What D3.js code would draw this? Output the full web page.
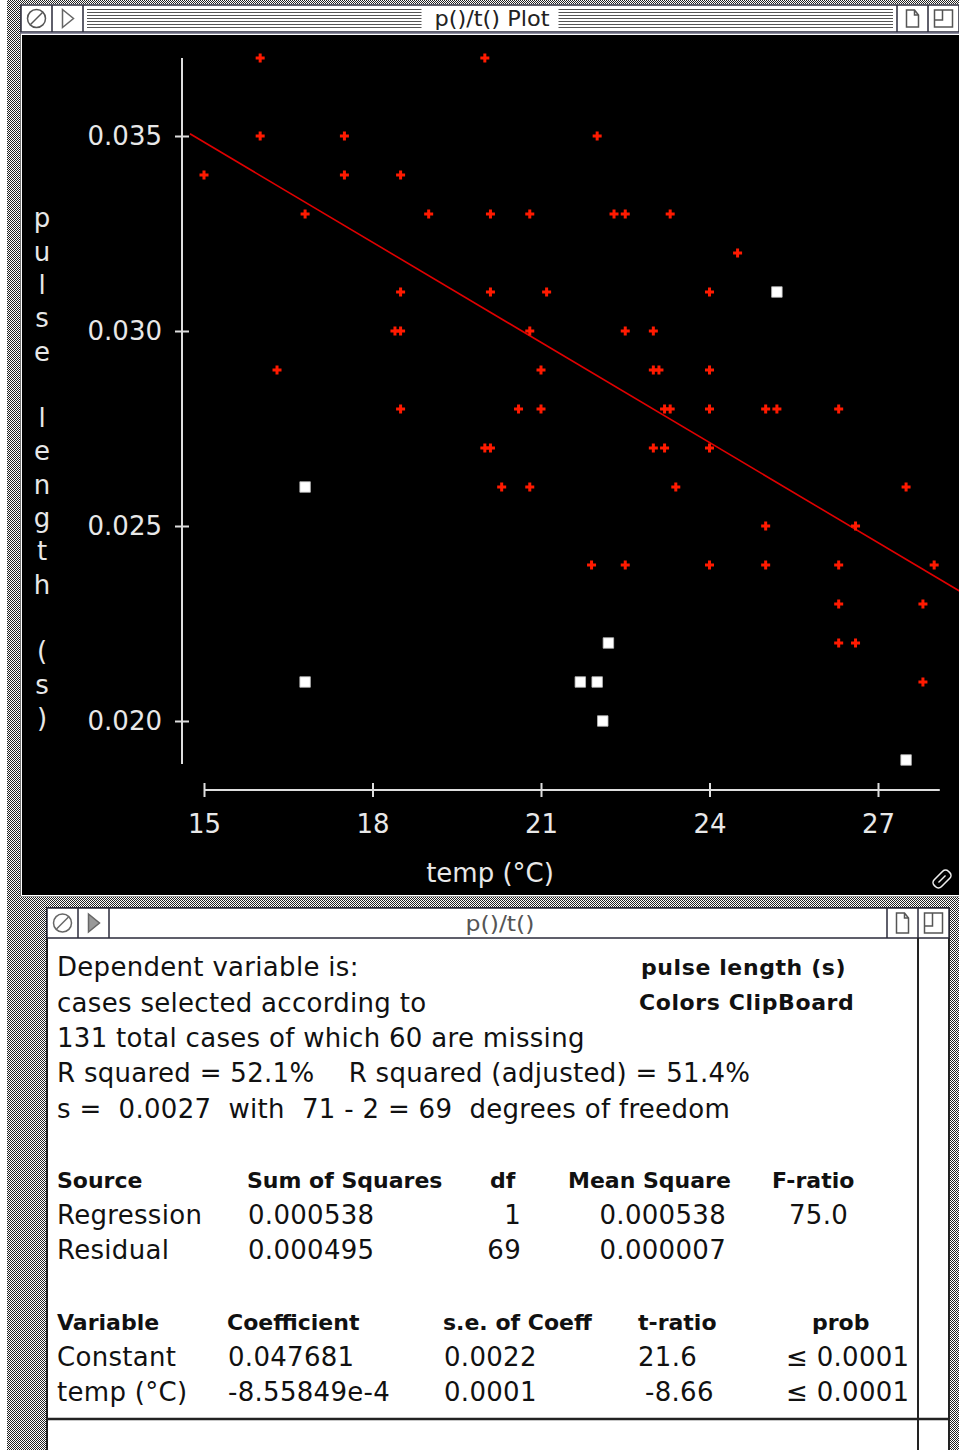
<!DOCTYPE html>
<html lang="en">
<head>
<meta charset="utf-8">
<title>p()/t() Plot</title>
<script src="https://cdnjs.cloudflare.com/ajax/libs/d3/7.8.5/d3.min.js"></script>
<style>
  body { margin: 0; background: #fff; }
  svg { display: block; font-family: "DejaVu Sans", sans-serif; }
  .bold { font-weight: bold; font-size: 22px; }
  .wide { letter-spacing: 0.6px; }
  .plain { font-size: 26px; letter-spacing: 0.3px; }
</style>
</head>
<body>
<svg id="chart" width="959" height="1450"></svg>
<script>
// values: temp (°C) and pulse length (s)
const redTemp = [16.0, 20.0,
  16.0, 17.5, 22.0,
  15.0, 17.5, 18.5,
  16.8, 19.0, 20.1, 20.8, 22.3, 22.5, 23.3,
  24.5,
  18.5, 20.1, 21.1, 24.0,
  18.4, 18.5, 20.8, 22.5, 23.0,
  16.3, 21.0, 23.0, 23.1, 24.0,
  18.5, 20.6, 21.0, 23.2, 23.3, 24.0, 25.0, 25.2, 26.3,
  20.0, 20.1, 23.0, 23.2, 24.0,
  20.3, 20.8, 23.4, 27.5,
  25.0, 26.6,
  21.9, 22.5, 24.0, 25.0, 26.3, 28.0,
  26.3, 27.8,
  26.3, 26.6,
  27.8];
const redPulse = [0.037, 0.037,
  0.035, 0.035, 0.035,
  0.034, 0.034, 0.034,
  0.033, 0.033, 0.033, 0.033, 0.033, 0.033, 0.033,
  0.032,
  0.031, 0.031, 0.031, 0.031,
  0.030, 0.030, 0.030, 0.030, 0.030,
  0.029, 0.029, 0.029, 0.029, 0.029,
  0.028, 0.028, 0.028, 0.028, 0.028, 0.028, 0.028, 0.028, 0.028,
  0.027, 0.027, 0.027, 0.027, 0.027,
  0.026, 0.026, 0.026, 0.026,
  0.025, 0.025,
  0.024, 0.024, 0.024, 0.024, 0.024, 0.024,
  0.023, 0.023,
  0.022, 0.022,
  0.021];
// cases not selected (white squares)
const whiteTemp = [25.2, 16.8, 16.8, 22.2, 21.7, 22.0, 22.1, 27.5];
const whitePulse = [0.031, 0.026, 0.021, 0.022, 0.021, 0.021, 0.020, 0.019];

const xTicks = [15, 18, 21, 24, 27];
const yTicks = [0.020, 0.025, 0.030, 0.035];
const xSpan = [15, 28.1];
const ySpan = [0.0189, 0.037];

// least squares fit from the table
const fitIntercept = 0.047681;
const fitSlope = -8.55849e-4;
const fitSpan = [14.75, 28.8];

const summaryLines = [
  "Dependent variable is:",
  "cases selected according to",
  "131 total cases of which 60 are missing",
  "R squared = 52.1%    R squared (adjusted) = 51.4%",
  "s =  0.0027  with  71 - 2 = 69  degrees of freedom"
];
const summaryRight = ["pulse length (s)", "Colors ClipBoard"];

const anovaHead = ["Source", "Sum of Squares", "df", "Mean Square", "F-ratio"];
const anovaRows = [
  ["Regression", "0.000538", "1", "0.000538", "75.0"],
  ["Residual", "0.000495", "69", "0.000007", ""]
];
const coefHead = ["Variable", "Coefficient", "s.e. of Coeff", "t-ratio", "prob"];
const coefRows = [
  ["Constant", "0.047681", "0.0022", "21.6", "\u2264 0.0001"],
  ["temp (\u00B0C)", "-8.55849e-4", "0.0001", "-8.66", "\u2264 0.0001"]
];

const svg = d3.select("#chart");
const defs = svg.append("defs");

// mac desktop dither
const pat = defs.append("pattern").attr("id", "dither")
  .attr("width", 2).attr("height", 2).attr("patternUnits", "userSpaceOnUse");
pat.append("rect").attr("width", 2).attr("height", 2).attr("fill", "#fff");
pat.append("rect").attr("width", 1).attr("height", 1).attr("fill", "#222");
pat.append("rect").attr("x", 1).attr("y", 1).attr("width", 1).attr("height", 1).attr("fill", "#222");

svg.append("rect").attr("x", 7).attr("y", 0).attr("width", 952).attr("height", 1450).attr("fill", "url(#dither)");
svg.append("rect").attr("x", 0).attr("y", 0).attr("width", 7).attr("height", 1450).attr("fill", "#fff");

// ---------- window chrome ----------
function titleBar(x0, x1, y0, y1, title, titleWidth, active, boxes) {
  const g = svg.append("g");
  g.append("rect").attr("x", x0).attr("y", y0).attr("width", x1 - x0).attr("height", y1 - y0)
    .attr("fill", "#fff").attr("stroke", "#2a2a3a").attr("stroke-width", 1.5);
  const h = y1 - y0;
  const mid = (x0 + x1) / 2;
  // left boxes
  g.append("line").attr("x1", x0 + boxes[0]).attr("x2", x0 + boxes[0]).attr("y1", y0).attr("y2", y1)
    .attr("stroke", "#2a2a3a").attr("stroke-width", 1.5);
  g.append("line").attr("x1", x0 + boxes[1]).attr("x2", x0 + boxes[1]).attr("y1", y0).attr("y2", y1)
    .attr("stroke", "#2a2a3a").attr("stroke-width", 1.5);
  g.append("circle").attr("cx", x0 + boxes[0] / 2).attr("cy", y0 + h / 2).attr("r", 9)
    .attr("fill", "none").attr("stroke", active ? "#555" : "#666").attr("stroke-width", 1.5);
  g.append("line").attr("x1", x0 + boxes[0] / 2 - 6).attr("y1", y0 + h / 2 + 6)
    .attr("x2", x0 + boxes[0] / 2 + 6).attr("y2", y0 + h / 2 - 6)
    .attr("stroke", active ? "#555" : "#666").attr("stroke-width", 1.5);
  const tx = x0 + (boxes[0] + boxes[1]) / 2;
  g.append("path").attr("d", `M${tx - 5},${y0 + h / 2 - 9} L${tx + 6},${y0 + h / 2} L${tx - 5},${y0 + h / 2 + 9} Z`)
    .attr("fill", active ? "none" : "#999").attr("stroke", "#666").attr("stroke-width", 1.5);
  // right boxes
  const r0 = x1 - 2 * boxes[0], r1 = x1 - boxes[0];
  [r0, r1].forEach(xx => g.append("line").attr("x1", xx).attr("x2", xx).attr("y1", y0).attr("y2", y1)
    .attr("stroke", "#2a2a3a").attr("stroke-width", 1.5));
  const dx = r0 + boxes[0] / 2;
  g.append("path").attr("d", `M${dx - 6},${y0 + 5} L${dx + 2},${y0 + 5} L${dx + 6},${y0 + 10} L${dx + 6},${y1 - 5} L${dx - 6},${y1 - 5} Z M${dx + 2},${y0 + 5} L${dx + 2},${y0 + 10} L${dx + 6},${y0 + 10}`)
    .attr("fill", "none").attr("stroke", "#555").attr("stroke-width", 1.5);
  const zx = r1 + boxes[0] / 2;
  g.append("rect").attr("x", zx - 9).attr("y", y0 + 5).attr("width", 18).attr("height", h - 10)
    .attr("fill", "none").attr("stroke", "#555").attr("stroke-width", 1.5);
  g.append("path").attr("d", `M${zx - 9},${y1 - 12} L${zx - 1},${y1 - 12} L${zx - 1},${y0 + 5}`)
    .attr("fill", "none").attr("stroke", "#555").attr("stroke-width", 1.5);
  if (active) {
    const left = x0 + boxes[1] + 4, right = r0 - 4;
    const midL = mid - titleWidth / 2 - 11, midR = mid + titleWidth / 2 + 11;
    for (let k = 0; k < 7; k++) {
      const yy = y0 + 4 + k * 3;
      [[left, midL], [midR, right]].forEach(s => g.append("line")
        .attr("x1", s[0]).attr("x2", s[1]).attr("y1", yy + 0.5).attr("y2", yy + 0.5)
        .attr("stroke", "#555").attr("stroke-width", 1));
    }
  }
  g.append("text").attr("x", mid + 2).attr("y", y0 + h / 2)
    .attr("dy", "0.36em").attr("text-anchor", "middle")
    .attr("font-family", "'Liberation Sans Narrow', 'DejaVu Sans Condensed', sans-serif")
    .attr("font-size", 21).attr("textLength", titleWidth).attr("lengthAdjust", "spacingAndGlyphs")
    .attr("fill", active ? "#222" : "#555").text(title);
}

// plot window
svg.append("rect").attr("x", 20).attr("y", 4).attr("width", 939).attr("height", 893).attr("fill", "#fff");
svg.append("rect").attr("x", 22).attr("y", 35).attr("width", 937).attr("height", 860).attr("fill", "#000");
svg.append("line").attr("x1", 20.5).attr("x2", 20.5).attr("y1", 4).attr("y2", 897).attr("stroke", "#777");
svg.append("line").attr("x1", 20).attr("x2", 959).attr("y1", 896.5).attr("y2", 896.5).attr("stroke", "#999");
titleBar(21, 959, 5, 32, "p()/t() Plot", 115, true, [31, 62]);
svg.append("line").attr("x1", 20).attr("x2", 959).attr("y1", 33).attr("y2", 33).attr("stroke", "#6a6a80").attr("stroke-width", 1.5);

// ---------- plot ----------
const x = d3.scaleLinear().domain([15, 27]).range([204, 878]);
const y = d3.scaleLinear().domain([0.020, 0.035]).range([721, 136]);

defs.append("clipPath").attr("id", "plotClip")
  .append("rect").attr("x", 22).attr("y", 35).attr("width", 937).attr("height", 860);

const axisColor = "#dedede";

const gy = svg.append("g").attr("transform", "translate(182,0)")
  .call(d3.axisLeft(y).tickValues(yTicks).tickFormat(d3.format(".3f")).tickSize(7).tickPadding(13));
gy.select(".domain").remove();
gy.append("line").attr("y1", y(ySpan[1])).attr("y2", y(ySpan[0]))
  .attr("stroke", axisColor).attr("stroke-width", 2);
gy.selectAll(".tick line").attr("x1", 7).attr("stroke", axisColor).attr("stroke-width", 2);
gy.selectAll(".tick text").attr("fill", "#e8e8e8").attr("font-size", 26)
  .attr("font-family", "'DejaVu Sans', sans-serif");

const gx = svg.append("g").attr("transform", "translate(0,790)")
  .call(d3.axisBottom(x).tickValues(xTicks).tickFormat(d3.format("d")).tickSize(7).tickPadding(18));
gx.select(".domain").remove();
gx.append("line").attr("x1", x(xSpan[0])).attr("x2", x(xSpan[1]))
  .attr("stroke", axisColor).attr("stroke-width", 2);
gx.selectAll(".tick line").attr("y1", -7).attr("stroke", axisColor).attr("stroke-width", 2);
gx.selectAll(".tick text").attr("fill", "#e8e8e8").attr("font-size", 26)
  .attr("font-family", "'DejaVu Sans', sans-serif");

// axis titles
svg.append("text").attr("x", 490).attr("y", 873).attr("dy", "0.36em").attr("text-anchor", "middle")
  .attr("fill", "#e8e8e8").attr("font-size", 26).text("temp (\u00B0C)");

const yTitle = "pulse length (s)".split("");
svg.append("g").selectAll("text").data(yTitle).join("text")
  .attr("x", 42).attr("y", (d, i) => 218 + i * 33.3).attr("dy", "0.36em")
  .attr("text-anchor", "middle").attr("fill", "#e8e8e8").attr("font-size", 26)
  .text(d => d);

const plot = svg.append("g").attr("clip-path", "url(#plotClip)");

// regression line
const fitLine = d3.line().x(d => x(d)).y(d => y(fitIntercept + fitSlope * d));
plot.append("path").attr("d", fitLine(fitSpan)).attr("fill", "none")
  .attr("stroke", "#e00000").attr("stroke-width", 1.6);

plot.selectAll(".sel").data(redTemp).join("path").attr("class", "sel")
  .attr("transform", (d, i) => `translate(${x(d)},${y(redPulse[i])})`)
  .attr("d", d3.symbol(d3.symbolCross, 45)).attr("fill", "#ff1a00");

plot.selectAll(".unsel").data(whiteTemp).join("path").attr("class", "unsel")
  .attr("transform", (d, i) => `translate(${x(d)},${y(whitePulse[i])})`)
  .attr("d", d3.symbol(d3.symbolSquare, 110)).attr("fill", "#fff")
  .attr("stroke", "#bbb").attr("stroke-width", 0.8);

// grow icon
const grow = svg.append("g").attr("transform", "translate(942,879) rotate(-45)");
grow.append("rect").attr("x", -10).attr("y", -5).attr("width", 20).attr("height", 10).attr("rx", 4)
  .attr("fill", "none").attr("stroke", "#eee").attr("stroke-width", 1.6);
grow.append("line").attr("x1", -5).attr("x2", 5).attr("y1", 0).attr("y2", 0)
  .attr("stroke", "#eee").attr("stroke-width", 1.4);

// ---------- regression window ----------
svg.append("rect").attr("x", 47).attr("y", 908).attr("width", 902).attr("height", 545)
  .attr("fill", "#fff").attr("stroke", "#222").attr("stroke-width", 2);
titleBar(47, 949, 908, 938, "p()/t()", 69, false, [31, 62]);
svg.append("line").attr("x1", 918).attr("x2", 918).attr("y1", 938).attr("y2", 1450)
  .attr("stroke", "#222").attr("stroke-width", 2);
svg.append("line").attr("x1", 47).attr("x2", 949).attr("y1", 1419).attr("y2", 1419)
  .attr("stroke", "#222").attr("stroke-width", 2.5);

const txt = svg.append("g").attr("fill", "#111");
summaryLines.forEach((s, i) => txt.append("text").attr("class", "plain")
  .attr("x", 57).attr("y", 967 + i * 35.3).attr("dy", "0.36em")
  .attr("xml:space", "preserve").style("white-space", "pre").text(s));
summaryRight.forEach((s, i) => txt.append("text").attr("class", "bold wide")
  .attr("x", i === 0 ? 641 : 639).attr("y", 967 + i * 35.3).attr("dy", "0.36em").text(s));

// ANOVA table
const anovaCols = [
  { x: 57, anchor: "start" }, { x: 248, anchor: "start" }, { x: 521, anchor: "end" },
  { x: 726, anchor: "end" }, { x: 789, anchor: "start" }
];
const anovaHeadX = [57, 247, 490, 568, 772];
anovaHead.forEach((s, j) => txt.append("text").attr("class", "bold")
  .attr("x", anovaHeadX[j]).attr("y", 1180).attr("dy", "0.36em").text(s));
anovaRows.forEach((row, i) => row.forEach((s, j) => txt.append("text").attr("class", "plain")
  .attr("x", anovaCols[j].x).attr("y", 1215 + i * 35).attr("dy", "0.36em")
  .attr("text-anchor", anovaCols[j].anchor).text(s)));

// coefficient table
const coefHeadX = [57, 227, 443, 638, 812];
const coefColX = [57, 228, 444, 638, 786];
coefHead.forEach((s, j) => txt.append("text").attr("class", "bold")
  .attr("x", coefHeadX[j]).attr("y", 1322).attr("dy", "0.36em").text(s));
coefRows.forEach((row, i) => row.forEach((s, j) => txt.append("text").attr("class", "plain")
  .attr("x", coefColX[j] + (j === 3 && s.startsWith("-") ? 7 : 0)).attr("y", 1357 + i * 35)
  .attr("dy", "0.36em").text(s)));
</script>
</body>
</html>
